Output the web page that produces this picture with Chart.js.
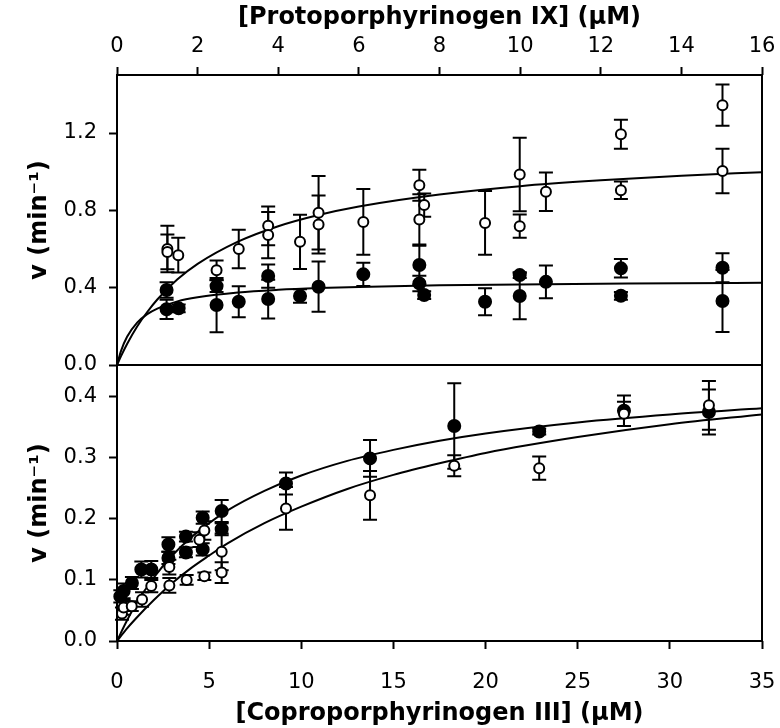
<!DOCTYPE html>
<html>
<head>
<meta charset="utf-8">
<script src="https://cdn.jsdelivr.net/npm/chart.js@4.4.0/dist/chart.umd.min.js"></script>
<style>
  html, body { margin: 0; padding: 0; background: #fff; }
  #wrap { position: relative; width: 780px; height: 728px; }
  #topPanel { position: absolute; left: 0; top: 0; }
  #bottomPanel { position: absolute; left: 0; top: 340px; }
</style>
</head>
<body>
<div id="wrap">
  <canvas id="topPanel" width="780" height="385"></canvas>
  <canvas id="bottomPanel" width="780" height="388"></canvas>
</div>
<script>
// ---- top panel: Protoporphyrinogen IX ----
const protoOpenX   = [1.25, 1.25, 1.52, 2.47, 3.02, 3.75, 3.75, 4.54, 5.0, 5.0, 6.11, 7.5, 7.62, 7.5, 9.13, 9.99, 9.99, 10.64, 12.5, 12.5, 15.02, 15.02];
const protoOpenY   = [0.60, 0.585, 0.568, 0.49, 0.60, 0.72, 0.672, 0.637, 0.787, 0.727, 0.74, 0.93, 0.827, 0.753, 0.735, 0.985, 0.718, 0.896, 1.194, 0.904, 1.344, 1.003];
const protoOpenErr = [0.12, 0.09, 0.09, 0.05, 0.10, 0.10, 0.12, 0.14, 0.19, 0.15, 0.17, 0.08, 0.06, 0.13, 0.165, 0.19, 0.06, 0.10, 0.075, 0.045, 0.107, 0.115];

const protoFilledX   = [1.23, 1.23, 1.53, 2.47, 2.47, 3.02, 3.75, 3.75, 4.54, 5.0, 6.11, 7.5, 7.5, 7.62, 9.13, 9.99, 9.99, 10.64, 12.5, 12.5, 15.02, 15.02];
const protoFilledY   = [0.388, 0.288, 0.293, 0.408, 0.31, 0.327, 0.46, 0.341, 0.357, 0.405, 0.469, 0.517, 0.422, 0.362, 0.327, 0.465, 0.357, 0.43, 0.5, 0.358, 0.503, 0.331];
const protoFilledErr = [0.04, 0.05, 0.02, 0.03, 0.14, 0.08, 0.06, 0.10, 0.035, 0.13, 0.06, 0.10, 0.04, 0.02, 0.07, 0.015, 0.12, 0.085, 0.048, 0.02, 0.075, 0.16];

const protoFitX      = [0, 0.1, 0.25, 0.5, 0.75, 1, 1.5, 2, 3, 4, 5, 6, 8, 10, 12, 14, 16];
const protoFitOpen   = [0, 0.046, 0.109, 0.199, 0.274, 0.339, 0.443, 0.523, 0.638, 0.718, 0.776, 0.820, 0.882, 0.925, 0.955, 0.979, 0.997];
const protoFitFilled = [0, 0.073, 0.146, 0.219, 0.263, 0.292, 0.329, 0.350, 0.375, 0.389, 0.398, 0.404, 0.412, 0.417, 0.420, 0.423, 0.425];

const protoXTicks = [0, 2, 4, 6, 8, 10, 12, 14, 16];
const protoYTicks = [0, 0.4, 0.8, 1.2];

// ---- bottom panel: Coproporphyrinogen III ----
const coproFilledX   = [0.18, 0.36, 0.81, 1.32, 1.86, 2.79, 2.79, 3.74, 3.74, 4.65, 4.65, 5.68, 5.68, 9.17, 13.73, 18.3, 22.91, 27.51, 32.12];
const coproFilledY   = [0.073, 0.082, 0.095, 0.117, 0.117, 0.158, 0.136, 0.171, 0.145, 0.202, 0.15, 0.213, 0.183, 0.258, 0.299, 0.352, 0.343, 0.377, 0.375];
const coproFilledErr = [0.01, 0.012, 0.01, 0.013, 0.014, 0.012, 0.01, 0.008, 0.008, 0.01, 0.01, 0.018, 0.01, 0.018, 0.03, 0.07, 0.005, 0.025, 0.037];

const coproOpenX   = [0.27, 0.36, 0.8, 1.36, 1.86, 2.84, 2.84, 3.78, 4.47, 4.74, 4.74, 5.68, 5.68, 9.17, 13.73, 18.3, 22.91, 27.51, 32.12];
const coproOpenY   = [0.045, 0.055, 0.057, 0.068, 0.09, 0.121, 0.091, 0.1, 0.166, 0.181, 0.106, 0.146, 0.112, 0.217, 0.2385, 0.287, 0.283, 0.372, 0.386];
const coproOpenErr = [0.01, 0.012, 0.008, 0.012, 0.01, 0.012, 0.012, 0.008, 0.012, 0.015, 0.006, 0.03, 0.017, 0.035, 0.04, 0.017, 0.019, 0.02, 0.04];

const coproFitX      = [0, 0.5, 1, 2, 3, 4, 5, 6, 8, 10, 12.5, 15, 17.5, 20, 25, 30, 35];
const coproFitFilled = [0, 0.031, 0.059, 0.104, 0.140, 0.169, 0.193, 0.214, 0.246, 0.271, 0.295, 0.313, 0.328, 0.340, 0.358, 0.371, 0.381];
const coproFitOpen   = [0, 0.019, 0.036, 0.067, 0.095, 0.119, 0.140, 0.160, 0.193, 0.220, 0.249, 0.272, 0.291, 0.308, 0.334, 0.355, 0.371];

const coproXTicks = [0, 5, 10, 15, 20, 25, 30, 35];
const coproYTicks = [0, 0.1, 0.2, 0.3, 0.4];

const FONT = 'DejaVu Sans';

function pts(xs, ys) {
    return xs.map((x, i) => ({ x: x, y: ys[i] }));
}

// box around the plot area
const frame = {
    id: 'frame',
    afterDatasetsDraw(chart) {
        const { ctx, chartArea: a } = chart;
        ctx.save();
        ctx.strokeStyle = '#000';
        ctx.lineWidth = 2;
        ctx.strokeRect(a.left, a.top, a.right - a.left, a.bottom - a.top);
        ctx.restore();
    }
};

// vertical error bars with caps, under the markers
const errorBars = {
    id: 'errorBars',
    beforeDatasetsDraw(chart) {
        const ctx = chart.ctx;
        const xs = chart.scales.x, ys = chart.scales.y;
        ctx.save();
        ctx.strokeStyle = '#000';
        ctx.lineWidth = 2;
        chart.data.datasets.forEach(ds => {
            if (!ds.errors) return;
            ds.data.forEach((p, i) => {
                const e = ds.errors[i];
                const px = xs.getPixelForValue(p.x);
                const top = ys.getPixelForValue(p.y + e);
                const bot = ys.getPixelForValue(p.y - e);
                ctx.beginPath();
                ctx.moveTo(px, top); ctx.lineTo(px, bot);
                ctx.moveTo(px - 7, top); ctx.lineTo(px + 7, top);
                ctx.moveTo(px - 7, bot); ctx.lineTo(px + 7, bot);
                ctx.stroke();
            });
        });
        ctx.restore();
    }
};

function pointSet(xs, ys, errs, open) {
    return {
        data: pts(xs, ys),
        errors: errs,
        pointStyle: 'circle',
        pointRadius: open ? 5 : 6,
        pointBorderWidth: 2,
        pointBackgroundColor: open ? '#fff' : '#000',
        pointBorderColor: '#000',
        showLine: false,
        order: 0
    };
}

function fitLine(xs, ys) {
    return {
        data: pts(xs, ys),
        showLine: true,
        borderColor: '#000',
        borderWidth: 2,
        pointRadius: 0,
        cubicInterpolationMode: 'monotone',
        order: 1
    };
}

function makePanel(id, c) {
    return new Chart(document.getElementById(id), {
        type: 'scatter',
        data: { datasets: c.datasets },
        options: {
            responsive: false,
            animation: false,
            clip: false,
            layout: { padding: c.padding },
            plugins: { legend: { display: false }, tooltip: { enabled: false } },
            scales: {
                x: {
                    type: 'linear',
                    position: c.xPos,
                    min: c.xMin, max: c.xMax,
                    afterBuildTicks: s => { s.ticks = c.xTicks.map(v => ({ value: v })); },
                    afterFit: s => { s.height = c.xHeight; s.paddingLeft = 0; s.paddingRight = 0; },
                    ticks: { color: '#000', font: { family: FONT, size: 21 }, padding: c.xTickPad, maxRotation: 0, callback: v => String(v) },
                    grid: { drawOnChartArea: false, tickLength: 8, tickWidth: 2, tickColor: '#000' },
                    border: { display: false },
                    title: { display: true, text: c.xTitle, color: '#000', font: { family: FONT, size: 24, weight: 'bold' }, padding: c.xTitlePad }
                },
                y: {
                    type: 'linear',
                    min: c.yMin, max: c.yMax,
                    afterBuildTicks: s => { s.ticks = c.yTicks.map(v => ({ value: v })); },
                    afterFit: s => { s.width = 117; s.paddingTop = 0; s.paddingBottom = 0; },
                    ticks: { color: '#000', font: { family: FONT, size: 21 }, padding: 12, callback: v => v.toFixed(1) },
                    grid: { drawOnChartArea: false, tickLength: 8, tickWidth: 2, tickColor: '#000' },
                    border: { display: false },
                    title: { display: true, text: 'v (min\u207B\u00B9)', color: '#000', font: { family: FONT, size: 24, weight: 'bold' }, padding: { top: 25, bottom: 0 } }
                }
            }
        },
        plugins: [errorBars, frame]
    });
}

makePanel('topPanel', {
    datasets: [
        pointSet(protoOpenX, protoOpenY, protoOpenErr, true),
        pointSet(protoFilledX, protoFilledY, protoFilledErr, false),
        fitLine(protoFitX, protoFitOpen),
        fitLine(protoFitX, protoFitFilled)
    ],
    padding: { left: 0, right: 18, top: 0, bottom: 20 },
    xPos: 'top', xMin: 0, xMax: 16, xTicks: protoXTicks, xHeight: 75, xTickPad: 8,
    xTitle: '[Protoporphyrinogen IX] (\u03BCM)', xTitlePad: { top: 3, bottom: 0 },
    yMin: 0, yMax: 1.5, yTicks: protoYTicks
});

makePanel('bottomPanel', {
    datasets: [
        pointSet(coproOpenX, coproOpenY, coproOpenErr, true),
        pointSet(coproFilledX, coproFilledY, coproFilledErr, false),
        fitLine(coproFitX, coproFitFilled),
        fitLine(coproFitX, coproFitOpen)
    ],
    padding: { left: 0, right: 18, top: 25, bottom: 0 },
    xPos: 'bottom', xMin: 0, xMax: 35, xTicks: coproXTicks, xHeight: 87, xTickPad: 21,
    xTitle: '[Coproporphyrinogen III] (\u03BCM)', xTitlePad: { top: 0, bottom: 0 },
    yMin: 0, yMax: 0.452, yTicks: coproYTicks
});
</script>
</body>
</html>
